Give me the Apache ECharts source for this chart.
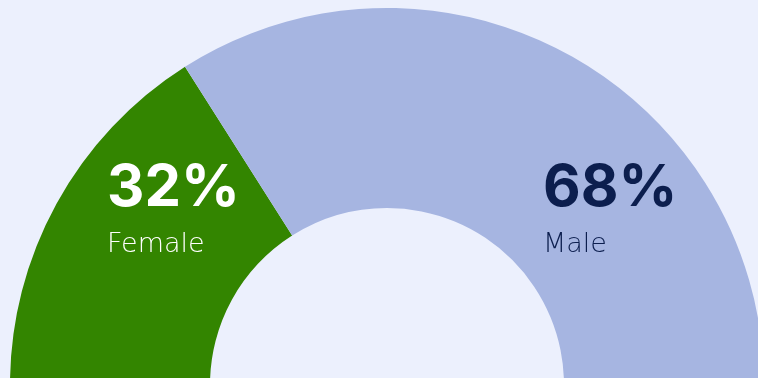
<!DOCTYPE html>
<html><head><meta charset="utf-8">
<script src="https://cdn.jsdelivr.net/npm/echarts@6/dist/echarts.min.js"></script>
<style>html,body{margin:0;padding:0;background:#ecf0fd}#c{width:758px;height:378px}</style>
</head><body><div id="c"></div>
<script>
const categories = ["Female", "Male"];
const values = [32, 68];
const colors = ["#338500", "#a6b5e1"];
const labelColors = ["#ffffff", "#0c1e4e"];
const labelX = [107, 543];

const chart = echarts.init(document.getElementById('c'), null, {renderer: 'canvas'});
const graphics = [];
categories.forEach((c, i) => {
  graphics.push({type: 'text', z: 100, left: labelX[i], top: 160, style: {text: values[i] + '%', fill: labelColors[i], font: 'bold 58px Inter'}});
  graphics.push({type: 'text', z: 100, left: labelX[i], top: 231, style: {text: c, fill: labelColors[i], font: '200 27px "DejaVu Sans"'}});
});
chart.setOption({
  backgroundColor: '#ecf0fd',
  animation: false,
  series: [{
    type: 'pie',
    center: [387, 385],
    radius: [177, 377],
    startAngle: 180,
    endAngle: 0,
    clockwise: true,
    label: {show: false},
    labelLine: {show: false},
    emphasis: {disabled: true},
    data: categories.map((c, i) => ({name: c, value: values[i], itemStyle: {color: colors[i]}}))
  }],
  graphic: graphics
});
</script></body></html>
